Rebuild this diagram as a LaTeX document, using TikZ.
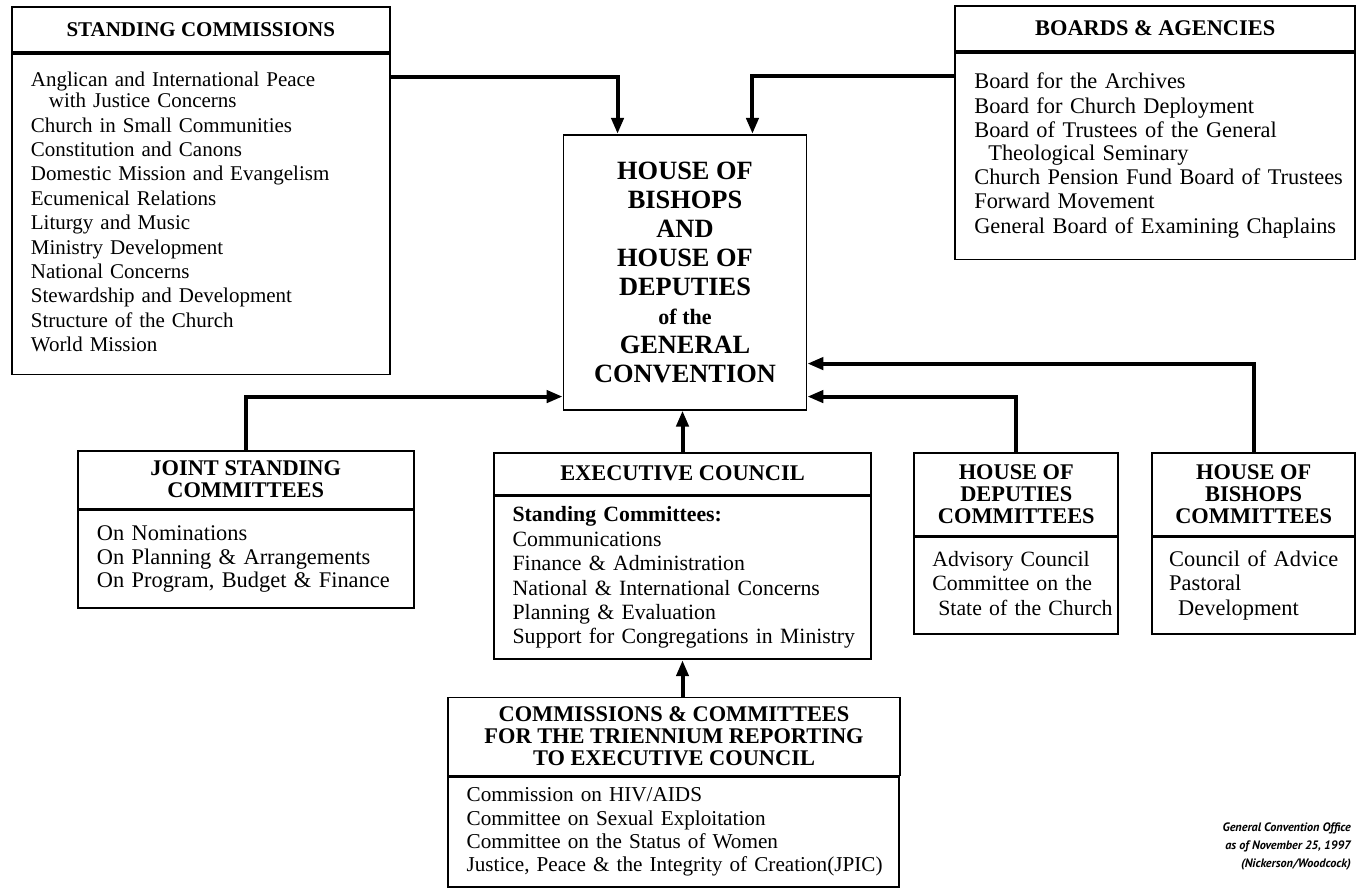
\documentclass[tikz,border=0pt]{standalone}
\usepackage{fontspec}
\setmainfont{Liberation Serif}
\newfontfamily\notefont{PT Sans}
\usetikzlibrary{arrows.meta}

\newcommand{\boxlines}[1]{\begin{tabular}{@{}l@{}}#1\end{tabular}}

\tikzset{
  hdbox/.style={draw, line width=0.9pt, anchor=north west, align=center, inner sep=0pt,
    font=\bfseries\fontsize{11.2}{11}\selectfont},
  bdbox/.style={draw, line width=0.9pt, anchor=north west, align=left, inner xsep=9.5pt, inner ysep=0pt,
    font=\fontsize{11.2}{12.25}\selectfont},
  conn/.style={line width=2pt, ->},
}

\begin{document}
\begin{tikzpicture}[x=0.5pt,y=-0.5pt,>={Triangle[length=8pt,width=6pt]}]
    \path (0,0) rectangle (1356,886);

    \node[hdbox, minimum width=189pt, minimum height=22.5pt, font=\bfseries\fontsize{10.5}{11}\selectfont] (scH) at (11,6) {STANDING COMMISSIONS};
    \node[bdbox, text width=170pt, minimum height=160.5pt, font=\fontsize{10.5}{12.2}\selectfont] (scB) at (scH.south west) {\boxlines{Anglican and International Peace\\[-1.5pt]\hspace*{9pt}with Justice Concerns\\Church in Small Communities\\Constitution and Canons\\Domestic Mission and Evangelism\\Ecumenical Relations\\Liturgy and Music\\Ministry Development\\National Concerns\\Stewardship and Development\\Structure of the Church\\World Mission}};

    \node[hdbox, minimum width=200pt, minimum height=22.5pt] (bdH) at (955,5) {BOARDS \& AGENCIES};
    \node[bdbox, text width=181pt, minimum height=103.5pt] (bdB) at (bdH.south west) {\boxlines{Board for the Archives\\Board for Church Deployment\\Board of Trustees of the General\\[-1pt]\hspace*{7pt}Theological Seminary\\Church Pension Fund Board of Trustees\\Forward Movement\\General Board of Examining Chaplains}};

    \node[draw, line width=0.9pt, anchor=north west, align=center, minimum width=121.5pt, minimum height=137.5pt, font=\bfseries\fontsize{13.2}{14.5}\selectfont] (cen) at (563,134) {HOUSE OF\\BISHOPS\\AND\\HOUSE OF\\DEPUTIES\\{\fontsize{11}{14.5}\selectfont of the}\\GENERAL\\CONVENTION};

    \node[hdbox, minimum width=168pt, minimum height=29pt] (jsH) at (77,450) {JOINT STANDING\\COMMITTEES};
    \node[bdbox, text width=149pt, minimum height=49pt, font=\fontsize{11.2}{11.6}\selectfont] (jsB) at (jsH.south west) {\boxlines{On Nominations\\On Planning \& Arrangements\\On Program, Budget \& Finance}};

    \node[hdbox, minimum width=189pt, minimum height=21pt] (exH) at (493,452) {EXECUTIVE COUNCIL};
    \node[bdbox, text width=170pt, minimum height=81.5pt, font=\fontsize{10.9}{12.25}\selectfont] (exB) at (exH.south west) {\boxlines{\textbf{Standing Committees:}\\Communications\\Finance \& Administration\\National \& International Concerns\\Planning \& Evaluation\\Support for Congregations in Ministry}};

    \node[hdbox, minimum width=102pt, minimum height=41.5pt] (hdH) at (914,452) {HOUSE OF\\DEPUTIES\\COMMITTEES};
    \node[bdbox, text width=84pt, minimum height=48.5pt, inner xsep=9pt, font=\fontsize{10.9}{12.25}\selectfont] (hdB) at (hdH.south west) {\boxlines{Advisory Council\\Committee on the\\\hspace*{3pt}State of the Church}};

    \node[hdbox, minimum width=101.5pt, minimum height=41.5pt] (hbH) at (1152,452) {HOUSE OF\\BISHOPS\\COMMITTEES};
    \node[bdbox, text width=84.5pt, minimum height=48.5pt, inner xsep=8.5pt] (hbB) at (hbH.south west) {\boxlines{Council of Advice\\Pastoral\\\hspace*{4.5pt}Development}};

    \node[hdbox, minimum width=226.5pt, minimum height=39pt] (trH) at (447,697) {COMMISSIONS \& COMMITTEES\\FOR THE TRIENNIUM REPORTING\\TO EXECUTIVE COUNCIL};
    \node[bdbox, text width=207pt, minimum height=55pt, font=\fontsize{10.6}{11.7}\selectfont] (trB) at (trH.south west) {\boxlines{Commission on HIV/AIDS\\Committee on Sexual Exploitation\\Committee on the Status of Women\\Justice, Peace \& the Integrity of Creation(JPIC)}};

    \node[anchor=north east, align=right, inner sep=0pt, font=\notefont\bfseries\itshape\fontsize{6.1}{9}\selectfont] (note) at (1352,823) {General Convention Office\\as of November 25, 1997\\(Nickerson/Woodcock)};

    \draw[conn] ([yshift=-12pt]scB.north east) -| ([xshift=-33.75pt]cen.north);
    \draw[conn] ([yshift=-12pt]bdB.north west) -| ([xshift=33.75pt]cen.north);
    \draw[conn] (jsH.north) |- ([yshift=7pt]cen.south west);
    \draw[conn] (exH.north) -- (exH.north |- cen.south);
    \draw[conn] (hdH.north) |- ([yshift=7pt]cen.south east);
    \draw[conn] (hbH.north) |- ([yshift=23.5pt]cen.south east);
    \draw[conn] (exB.south |- trH.north) -- (exB.south);

\end{tikzpicture}
\end{document}
